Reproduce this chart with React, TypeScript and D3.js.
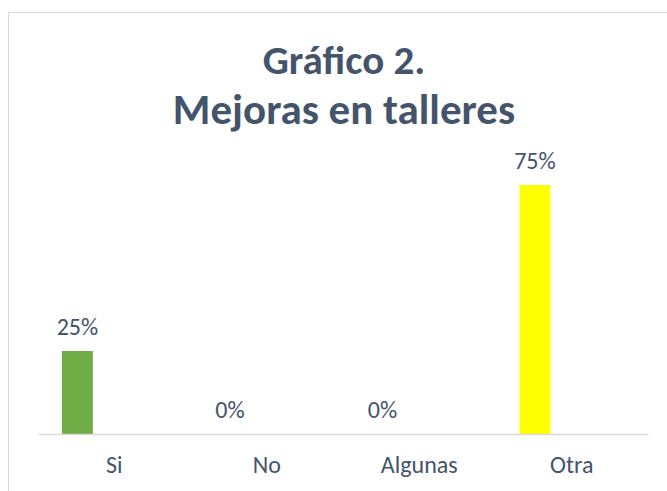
import React, { useEffect, useRef } from "react";
import * as d3 from "d3";

const categories = ["Si", "No", "Algunas", "Otra"];
const values = [0.25, 0, 0, 0.75];
const barColors = ["#70AD47", "#4472C4", "#A5A5A5", "#FFFF00"];
const titleLines = ["Gráfico 2.", "Mejoras en talleres"];

const W = 667;
const H = 491;
const FONT = "Carlito, Calibri, Lato, 'Open Sans', sans-serif";
const TEXT = "#44546A";

export default function App() {
  const ref = useRef<SVGSVGElement>(null);

  useEffect(() => {
    const svg = d3.select(ref.current);
    svg.selectAll("*").remove();

    // chart area border (runs off the right and bottom edges)
    svg
      .append("rect")
      .attr("x", 8.5)
      .attr("y", 12.5)
      .attr("width", 700)
      .attr("height", 500)
      .attr("fill", "#fff")
      .attr("stroke", "#D9D9D9");

    // title
    svg
      .selectAll("text.title")
      .data(titleLines)
      .join("text")
      .attr("class", "title")
      .attr("x", 344)
      .attr("y", (d, i) => 74 + i * 50)
      .attr("text-anchor", "middle")
      .attr("font-family", FONT)
      .attr("font-weight", "bold")
      .attr("font-size", (d, i) => (i === 0 ? 41 : 43))
      .attr("fill", TEXT)
      .text((d) => d);

    const x = d3.scaleBand().domain(categories).range([38, 648]);
    const y = d3.scaleLinear().domain([0, 0.8]).range([434, 168.4]);
    const bw = x.bandwidth();
    const barX = (d: string) => (x(d) as number) + bw * 0.157;
    const barW = bw * 0.203;

    svg
      .selectAll("rect.bar")
      .data(values)
      .join("rect")
      .attr("class", "bar")
      .attr("x", (d, i) => barX(categories[i]))
      .attr("y", (d) => y(d))
      .attr("width", barW)
      .attr("height", (d) => y(0) - y(d))
      .attr("fill", (d, i) => barColors[i]);

    // data labels
    svg
      .selectAll("text.val")
      .data(values)
      .join("text")
      .attr("class", "val")
      .attr("x", (d, i) => barX(categories[i]) + barW / 2)
      .attr("y", (d) => y(d) - 16.5)
      .attr("text-anchor", "middle")
      .attr("font-family", FONT)
      .attr("font-size", 24)
      .attr("fill", TEXT)
      .text((d) => d3.format(".0%")(d));

    // axis
    const axis = svg
      .append("g")
      .attr("transform", `translate(0,${y(0)})`)
      .call(d3.axisBottom(x).tickSize(0).tickPadding(22));
    axis.select(".domain").attr("stroke", "#D9D9D9").attr("stroke-width", 1.5);
    axis
      .selectAll("text")
      .attr("font-family", FONT)
      .attr("font-size", 24)
      .attr("fill", TEXT);
  }, []);

  return (
    <svg
      ref={ref}
      width={W}
      height={H}
      style={{ position: "absolute", left: 0, top: 0, background: "#fff" }}
    />
  );
}
